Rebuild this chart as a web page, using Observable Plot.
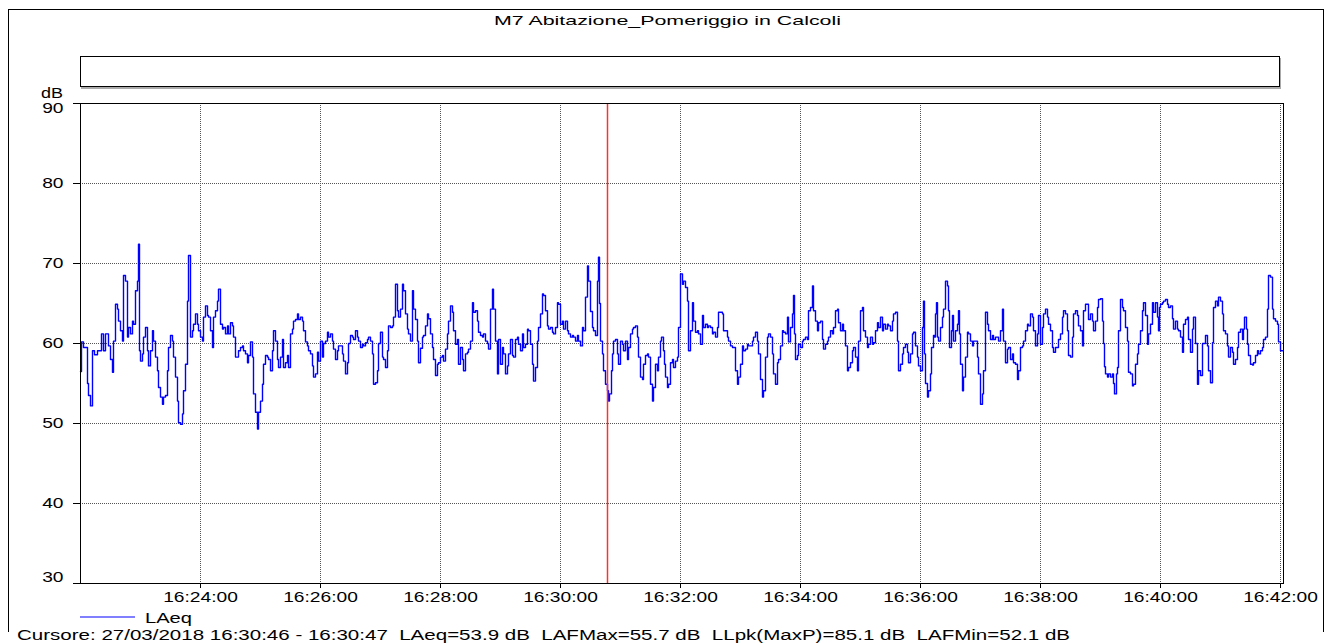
<!DOCTYPE html>
<html><head><meta charset="utf-8">
<script src="https://cdn.jsdelivr.net/npm/d3@7"></script>
<script src="https://cdn.jsdelivr.net/npm/@observablehq/plot@0.6"></script>
<style>
html,body{margin:0;padding:0;background:#fff;}
#root{position:relative;width:1333px;height:643px;overflow:hidden;font-family:"Liberation Sans",Arial,sans-serif;color:#000;}
#outer{position:absolute;left:8px;top:9px;width:1314px;height:622px;border:1px solid #000;border-bottom:none;}
.t{position:absolute;white-space:pre;transform-origin:0 0;line-height:1;}
#box{position:absolute;left:80px;top:56px;width:1198px;height:29px;border:1px solid #000;box-shadow:1px 2px 0 #aaa;}
#chart{position:absolute;left:0;top:90px;}
#legline{position:absolute;left:80px;top:616px;width:55px;height:2px;background:#8080ff;}
</style></head>
<body><div id="root">
<div id="outer"></div>
<div id="box"></div>
<div id="chart"></div>
<div id="legline"></div>
</div>
<script>
const chartTitle = "M7 Abitazione_Pomeriggio in Calcoli";
const yUnit = "dB";
const seriesName = "LAeq";
const cursorText = "Cursore: 27/03/2018 16:30:46 - 16:30:47  LAeq=53.9 dB  LAFMax=55.7 dB  LLpk(MaxP)=85.1 dB  LAFMin=52.1 dB";
const dateStr = "2018-03-27";
const startTime = "16:22:00";
const endTime = "16:42:03";
const cursorTime = "16:30:47";
const xTickLabels = ["16:24:00","16:26:00","16:28:00","16:30:00","16:32:00","16:34:00","16:36:00","16:38:00","16:40:00","16:42:00"];
const yTicks = [30,40,50,60,70,80,90];
// [seconds after 16:22:00, LAeq dB]
const laeqReadings = [
[0,56.5],[1,60.2],[3,59.5],[7,55],[8,53.5],[10,52.2],[12,59.1],[14,58.6],[17,59.1],[19,59.1],[21,61.2],[23,59.1],[25,61.2],[28,59.7],[30,58.0],[32,56.4],[33,60.3],[35,64.9],[37,64.3],[38,62.8],[40,61.6],[42,60.3],[43,68.5],[45,67.8],[47,60.8],[48,62.0],[50,61.2],[52,62.8],[53,62.4],[55,66.6],[57,67.8],[58,72.4],[59,59.1],[60,57.8],[62,58.7],[63,60.8],[65,62.0],[67,59.1],[68,57.2],[70,59.1],[72,61.6],[73,60.3],[75,58.3],[77,56.6],[78,54.5],[80,53.3],[82,52.4],[83,53.3],[85,53.5],[87,56.6],[88,59.5],[90,61.0],[92,60.3],[93,58.3],[95,55.8],[97,52.8],[98,50.1],[100,49.9],[102,51.2],[103,54.1],[105,57.4],[107,65.3],[108,71.0],[110,60.8],[112,61.6],[113,62.4],[115,63.7],[117,62.4],[118,61.6],[120,60.8],[122,60.3],[123,63.3],[125,64.7],[127,63.5],[128,63.3],[130,61.6],[132,59.5],[133,63.3],[135,64.1],[137,65.3],[138,66.8],[140,62.4],[142,61.8],[143,62.0],[145,61.2],[147,62.2],[148,61.2],[150,62.6],[152,62.2],[153,60.8],[155,58.3],[157,58.3],[158,59.1],[160,59.5],[162,59.7],[163,59.1],[165,58.7],[167,57.6],[168,58.5],
[170,60.2],[172,58.3],[173,53.7],[175,51.4],[177,49.3],[178,51.4],[180,52.8],[182,54.9],[183,57.4],[185,58.5],[187,58.3],[188,58.0],[190,56.6],[192,59.1],[193,61.6],[195,60.3],[197,58.0],[198,57.0],[200,58.3],[202,60.5],[203,57.0],[205,57.6],[207,58.5],[208,57.0],[210,61.2],[212,61.8],[213,62.8],[215,63.0],[217,63.7],[218,63.0],[220,63.3],[222,62.8],[223,61.6],[225,60.2],[227,59.7],[228,59.1],[230,58.7],[232,57.2],[233,55.8],[235,56.2],[237,58.9],[238,57.8],[240,60.3],[242,58.3],[243,60.0],[245,60.3],[247,61.4],[248,60.8],[250,61.2],[252,60.3],[253,59.3],[255,58.0],[257,59.1],[258,59.7],[260,59.7],[262,58.7],[263,57.8],[265,56.2],[267,57.6],[268,60.0],[270,61.0],[272,60.8],[273,60.5],[275,61.6],[277,60.8],[278,60.3],[280,59.5],[282,59.9],[283,59.7],[285,60.1],[287,60.5],[288,60.8],[290,60.3],[292,58.7],[293,54.9],[295,55.1],[297,56.6],[298,60.0],[300,61.4],[302,58.3],[303,58.0],[305,57.0],[307,59.1],[308,62.2],[310,62.0],[312,62.2],[313,63.3],[315,67.4],[317,64.1],[318,63.3],[320,64.3],[322,67.4],[323,66.6],[325,63.7],[327,61.8],[328,61.2],[330,60.3],[332,66.6],[333,64.3],[335,63.0],[337,60.3],[338,57.6],
[340,59.4],[342,60.8],[343,61.0],[345,62.2],[347,63.7],[348,63.1],[350,61.2],[352,59.5],[353,58.0],[355,56.0],[357,57.4],[358,57.6],[360,58.3],[362,58.5],[363,57.8],[365,59.3],[367,61.2],[368,62.8],[370,64.7],[372,63.9],[373,61.6],[375,59.9],[377,60.5],[378,57.4],[380,59.5],[382,58.0],[383,56.6],[385,58.7],[387,58.9],[388,59.3],[390,60.3],[392,65.1],[393,63.9],[395,64.1],[397,62.8],[398,61.4],[400,61.0],[402,60.8],[403,61.2],[405,60.3],[407,60.0],[408,59.3],[410,64.3],[412,66.8],[413,64.3],[415,60.3],[417,56.2],[418,60.5],[420,57.4],[422,59.5],[423,58.7],[425,56.2],[427,57.2],[428,58.7],[430,60.5],[432,58.5],[433,58.3],[435,60.5],[437,60.8],[438,59.9],[440,59.1],[442,61.2],[443,59.5],[445,59.9],[447,61.8],[448,61.6],[450,59.9],[452,57.4],[453,55.3],[455,57.0],[457,60.3],[458,62.0],[460,63.7],[462,66.2],[463,66.0],[465,64.1],[467,62.2],[468,61.8],[470,62.0],[472,61.4],[473,61.2],[475,62.0],[477,65.1],[478,64.9],[480,62.4],[482,62.8],[483,61.8],[485,62.8],[487,61.6],[488,61.2],[490,60.8],[492,61.0],[493,60.8],[495,60.3],[497,61.0],[498,60.3],[500,59.7],[502,62.0],[503,61.6],[505,65.8],[507,69.7],[508,67.8],
[510,64.0],[512,62.0],[513,61.6],[515,61.0],[517,67.8],[518,70.8],[519,65.0],[520,60.3],[522,58.7],[523,56.6],[525,54.9],[527,54.1],[528,52.8],[529,53.7],[531,56.6],[532,58.7],[533,60.3],[535,60.5],[537,58.7],[538,57.4],[540,60.3],[542,59.9],[543,59.1],[545,60.3],[547,58.0],[548,59.5],[550,61.2],[552,61.8],[553,62.0],[555,62.2],[557,60.8],[558,58.3],[560,55.8],[562,55.5],[563,57.4],[565,58.5],[567,58.7],[568,58.3],[570,54.9],[572,52.8],[573,54.5],[575,57.4],[577,56.6],[578,58.3],[580,60.3],[581,60.8],[583,59.1],[584,57.4],[585,55.8],[587,54.5],[588,54.9],[590,57.6],[592,58.0],[593,57.0],[595,57.8],[597,58.3],[598,62.0],[600,68.7],[602,67.4],[603,67.8],[605,67.0],[607,65.3],[608,59.1],[610,61.6],[612,65.1],[613,62.8],[615,61.4],[617,61.6],[618,61.2],[620,59.9],[622,63.5],[623,62.0],[625,62.4],[627,62.0],[628,62.2],[630,62.0],[632,61.2],[633,61.4],[635,60.8],[637,62.0],[638,63.9],[640,63.9],[642,63.7],[643,61.6],[645,61.6],[647,60.8],[648,60.3],[650,59.7],[652,59.5],[653,59.5],[655,56.6],[657,54.9],[658,55.8],[660,57.4],[662,59.7],[663,59.1],[665,59.3],[667,59.9],[668,59.7],[670,59.7],[672,60.3],[673,60.8],[675,61.4],[677,60.3],[678,58.7],
[680,55.5],[682,53.3],[683,54.1],[685,58.3],[687,60.8],[688,61.2],[690,60.8],[692,58.7],[693,56.2],[695,54.9],[697,57.6],[698,58.0],[700,59.7],[702,61.6],[703,61.4],[705,61.2],[707,63.3],[708,60.2],[710,62.0],[712,63.7],[713,66.0],[714,61.2],[715,58.0],[717,58.5],[718,59.9],[720,59.5],[722,60.3],[723,60.5],[725,60.8],[727,60.5],[728,64.1],[730,64.5],[732,67.2],[733,64.1],[735,62.8],[737,61.6],[738,62.6],[740,62.8],[742,60.5],[743,59.3],[745,59.9],[747,60.3],[748,60.8],[750,61.6],[752,61.2],[753,62.0],[755,64.1],[757,64.3],[758,62.6],[760,61.6],[762,62.4],[763,61.6],[765,59.7],[767,56.6],[768,57.0],[770,57.6],[772,59.1],[773,59.5],[775,58.3],[777,56.6],[778,60.3],[780,64.1],[782,64.5],[783,61.6],[785,60.8],[787,59.5],[788,59.9],[790,60.8],[792,59.9],[793,60.1],[795,61.6],[797,62.6],[798,62.0],[800,63.3],[802,61.6],[803,62.4],[805,61.8],[807,62.4],[808,62.2],[810,61.6],[812,62.8],[813,63.7],[815,63.9],[817,60.3],[818,56.6],[820,57.4],[822,58.7],[823,59.5],[825,59.9],[827,58.9],[828,57.6],[830,58.7],[832,61.2],[833,61.4],[835,59.7],[837,58.3],[838,57.2],[840,56.6],[842,62.0],[843,65.3],[844,58.7],[845,55.0],[847,53.3],[848,54.1],
[850,56.2],[851,59.5],[853,61.0],[854,60.8],[855,63.7],[856,65.1],[857,60.8],[858,60.3],[860,62.0],[862,63.3],[863,64.3],[865,67.8],[867,67.2],[868,64.1],[869,59.5],[871,61.6],[872,63.5],[873,60.3],[875,61.6],[877,62.4],[878,64.1],[879,61.2],[880,57.4],[882,54.1],[883,55.8],[885,58.3],[887,61.4],[888,61.2],[890,60.3],[892,59.7],[893,60.3],[895,60.3],[897,58.3],[898,56.2],[900,52.4],[902,53.7],[903,56.6],[905,63.9],[907,62.4],[908,61.6],[910,60.5],[912,61.0],[913,60.5],[915,60.8],[917,60.8],[918,60.3],[920,61.6],[922,64.3],[923,60.3],[925,57.6],[927,59.3],[928,59.5],[930,58.0],[932,58.7],[933,57.6],[935,57.4],[937,55.5],[938,56.6],[940,59.5],[942,59.7],[943,60.3],[945,61.6],[947,62.4],[948,62.2],[950,63.7],[952,63.3],[953,61.6],[955,59.7],[957,61.2],[958,63.5],[960,59.9],[962,62.0],[963,63.7],[965,64.3],[967,63.3],[968,62.4],[970,61.6],[972,59.5],[973,58.9],[975,59.5],[977,59.5],[978,60.5],[980,61.2],[982,63.3],[983,64.1],[985,63.7],[987,61.6],[988,58.5],[990,58.3],[992,60.8],[993,63.7],[995,64.1],[997,63.5],[998,62.2],[1000,61.6],[1002,59.7],[1003,64.1],[1005,64.9],[1007,64.9],[1008,63.0],[1010,63.7],[1012,62.8],[1013,61.6],[1015,62.8],[1017,64.5],[1018,65.5],
[1020,65.6],[1022,62.8],[1023,60.0],[1024,57.1],[1025,56.2],[1027,55.8],[1028,56.2],[1030,55.8],[1032,56.2],[1033,55.0],[1034,53.7],[1036,56.2],[1037,57.0],[1038,61.6],[1040,65.5],[1042,64.5],[1043,64.1],[1045,62.0],[1047,60.3],[1048,56.4],[1050,56.2],[1052,54.7],[1053,54.9],[1055,57.4],[1057,58.7],[1058,59.9],[1060,61.6],[1062,64.1],[1063,65.1],[1065,63.5],[1067,59.9],[1068,61.2],[1070,62.4],[1072,65.1],[1073,63.9],[1075,65.1],[1077,63.3],[1078,61.6],[1079,64.5],[1080,64.9],[1082,65.1],[1083,65.3],[1085,65.5],[1087,64.9],[1088,64.5],[1090,64.7],[1092,63.1],[1093,61.8],[1095,62.8],[1097,61.8],[1098,61.6],[1100,60.8],[1102,58.9],[1103,62.4],[1105,63.0],[1107,63.3],[1108,60.5],[1110,58.9],[1112,61.8],[1113,63.3],[1115,60.0],[1117,54.9],[1118,56.6],[1120,56.0],[1122,60.0],[1123,60.0],[1125,61.0],[1127,59.7],[1128,56.6],[1130,55.1],[1132,60.1],[1133,64.5],[1135,65.3],[1137,64.7],[1138,65.8],[1140,65.3],[1142,63.7],[1143,61.6],[1145,61.2],[1147,59.7],[1148,58.3],[1150,59.5],[1152,58.9],[1153,57.4],[1155,58.0],[1157,59.5],[1158,61.4],[1160,61.8],[1162,60.5],[1163,61.8],[1164,63.3],[1166,61.8],[1167,59.9],[1168,58.5],[1170,57.4],[1172,57.3],[1173,57.6],[1175,58.5],[1177,59.1],[1178,58.7],[1180,59.1],[1182,59.5],[1183,60.5],[1185,60.8],[1187,64.3],[1188,68.5],[1190,68.3],[1192,64.3],[1193,63.1],[1195,62.8],[1197,62.4],[1198,60.2],[1200,59.1],[1202,59.1]
];

const parseT = s => new Date(dateStr + "T" + s + "Z");
const t0 = parseT(startTime);
const data = laeqReadings.map(([s, v]) => ({t: new Date(+t0 + s * 1000), v}));
const xTicks = xTickLabels.map(parseT);
const fmt = d3.utcFormat("%H:%M:%S");
const gridColor = "#555";

const chart = Plot.plot({
  width: 1333, height: 520,
  marginLeft: 80, marginRight: 50, marginTop: 13, marginBottom: 27,
  style: {fontFamily: "'Liberation Sans', Arial, sans-serif", fontSize: "15px", color: "#000", background: "transparent", overflow: "visible"},
  x: {type: "utc", domain: [t0, parseT(endTime)]},
  y: {domain: [yTicks[0], yTicks[yTicks.length - 1]]},
  marks: [
    Plot.gridX({ticks: xTicks, stroke: gridColor, strokeOpacity: 1, strokeDasharray: "1,1"}),
    Plot.gridY({ticks: yTicks.slice(1, -1), stroke: gridColor, strokeOpacity: 1, strokeDasharray: "1,1"}),
    Plot.line(data, {x: "t", y: "v", stroke: "#0000ff", strokeWidth: 1.4, curve: "step-after"}),
    Plot.ruleX([parseT(cursorTime)], {stroke: "#ff3030", strokeWidth: 1.5}),
    Plot.frame({stroke: "#000"}),
    Plot.axisX({ticks: xTicks, tickSize: 5, tickPadding: 3, tickFormat: fmt, label: null}),
    Plot.axisY({ticks: yTicks, tickSize: 7, tickFormat: () => "", label: null}),
    Plot.axisY({ticks: yTicks.slice(1, -1), tickSize: 0, tickPadding: 17, label: null}),
    Plot.axisY({ticks: [yTicks[yTicks.length - 1]], tickSize: 0, tickPadding: 17, dy: 5, label: null}),
    Plot.axisY({ticks: [yTicks[0]], tickSize: 0, tickPadding: 17, dy: -6, label: null})
  ]
});
document.getElementById("chart").appendChild(chart);

// widen tick labels like the original raster
chart.querySelectorAll('g[aria-label$="tick label"] text').forEach(t => {
  const tr = t.getAttribute("transform");
  if (tr) t.setAttribute("transform", tr + " scale(1.28,1)");
  else {
    const x = +t.getAttribute("x") || 0, y = +t.getAttribute("y") || 0;
    t.setAttribute("transform", `translate(${x},${y}) scale(1.28,1) translate(${-x},${-y})`);
  }
});

const root = document.getElementById("root");
function addText(str, size, left, right, top) {
  const el = document.createElement("div");
  el.className = "t";
  el.style.fontSize = size + "px";
  el.style.left = left + "px";
  el.style.top = top + "px";
  el.textContent = str;
  root.appendChild(el);
  const w = el.getBoundingClientRect().width;
  el.style.transform = `scaleX(${(right - left) / w})`;
  return el;
}
addText(chartTitle, 13, 494, 841, 14);
addText(yUnit, 14, 41, 63, 86);
addText(seriesName, 15, 145, 192, 610);
addText(cursorText, 14, 17, 1070, 628);
</script>
</body></html>
